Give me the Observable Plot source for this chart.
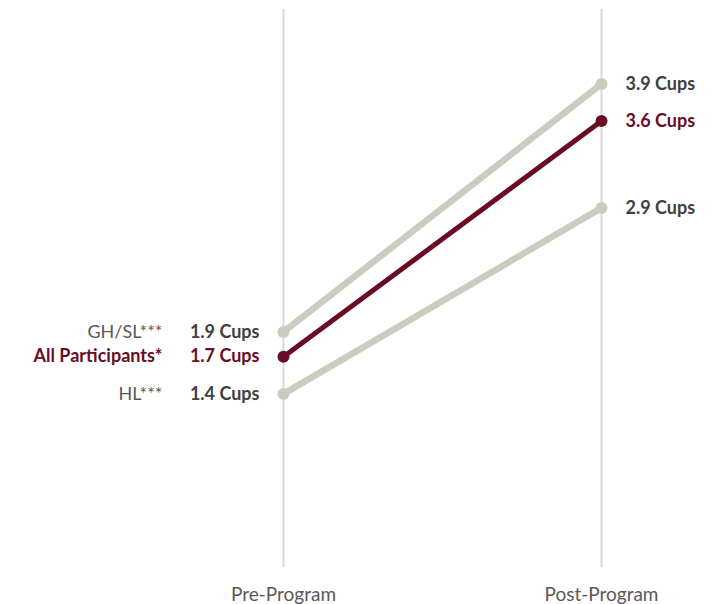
<!DOCTYPE html>
<html>
<head>
<meta charset="utf-8">
<script src="https://cdn.jsdelivr.net/npm/d3@7"></script>
<script src="https://cdn.jsdelivr.net/npm/@observablehq/plot@0.6"></script>
<style>
  html, body { margin: 0; padding: 0; background: #fff; }
  #chart svg { display: block; }
</style>
</head>
<body>
<div id="chart"></div>
<script>
const periods = ["Pre-Program", "Post-Program"];
const groups = ["GH/SL***", "HL***", "All Participants*"];
const preValues = [1.9, 1.4, 1.7];
const postValues = [3.9, 2.9, 3.6];
const highlight = "All Participants*";

const rows = [];
groups.forEach((g, i) => {
  rows.push({group: g, period: periods[0], value: preValues[i]});
  rows.push({group: g, period: periods[1], value: postValues[i]});
});
const others = rows.filter(d => d.group !== highlight);
const main = rows.filter(d => d.group === highlight);
const isPre = d => d.period === periods[0];
const isPost = d => d.period === periods[1];

const maroon = "#6a0d24";
const grey = "#cbcbbf";
const textGrey = "#404040";
const nameGrey = "#595959";
const font = "Lato, 'Open Sans', sans-serif";
const fs = 18;
const cups = d => `${d.value.toFixed(1)} Cups`;

const chart = Plot.plot({
  width: 712,
  height: 604,
  marginLeft: 283,
  marginRight: 111,
  marginTop: 9,
  marginBottom: 37,
  style: {fontFamily: font, background: "#fff"},
  x: {type: "point", domain: periods, padding: 0, label: null},
  y: {domain: [0, 4.5], axis: null},
  axis: null,
  marks: [
    Plot.ruleX(periods, {x: d => d, y1: 0, y2: 4.5, stroke: "#d9d9d9", strokeWidth: 2}),
    Plot.axisX({tickSize: 0, tickPadding: 20, fontSize: 19, fill: "#595959", label: null, fontFamily: font}),
    Plot.line(others, {x: "period", y: "value", z: "group", stroke: grey, strokeWidth: 6.5}),
    Plot.dot(others, {x: "period", y: "value", r: 6, fill: grey}),
    Plot.line(main, {x: "period", y: "value", z: "group", stroke: maroon, strokeWidth: 5}),
    Plot.dot(main, {x: "period", y: "value", r: 6, fill: maroon}),
    // left side values
    Plot.text(others.filter(isPre), {x: "period", y: "value", text: cups, textAnchor: "end", dx: -24, fontSize: fs, fontWeight: "bold", fill: textGrey}),
    Plot.text(main.filter(isPre), {x: "period", y: "value", text: cups, textAnchor: "end", dx: -24, fontSize: fs, fontWeight: "bold", fill: maroon}),
    // group names
    Plot.text(others.filter(isPre), {x: "period", y: "value", text: "group", textAnchor: "end", dx: -121, fontSize: fs, fill: nameGrey}),
    Plot.text(main.filter(isPre), {x: "period", y: "value", text: "group", textAnchor: "end", dx: -121, fontSize: fs, fontWeight: "bold", fill: maroon}),
    // right side values
    Plot.text(others.filter(isPost), {x: "period", y: "value", text: cups, textAnchor: "start", dx: 24, fontSize: fs, fontWeight: "bold", fill: textGrey}),
    Plot.text(main.filter(isPost), {x: "period", y: "value", text: cups, textAnchor: "start", dx: 24, fontSize: fs, fontWeight: "bold", fill: maroon})
  ]
});
document.getElementById("chart").appendChild(chart);
</script>
</body>
</html>
